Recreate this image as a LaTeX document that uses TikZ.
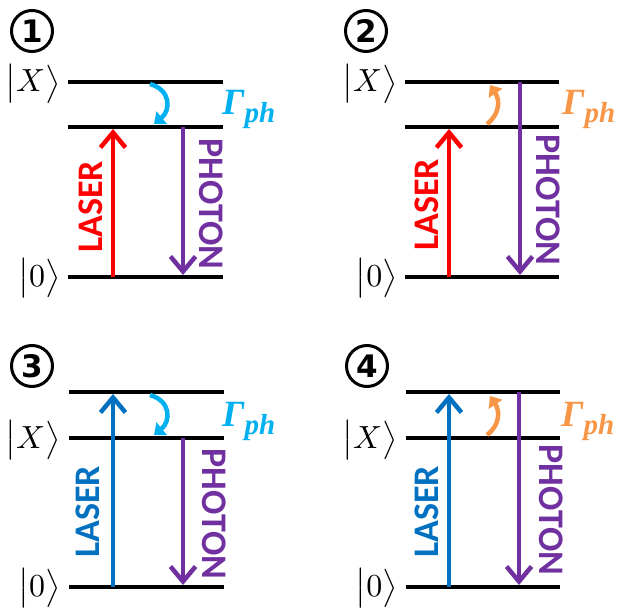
\documentclass[tikz,border=0pt]{standalone}
\usepackage{amsmath}
\usepackage{fontspec}
\usetikzlibrary{arrows.meta}
\newfontfamily\labelfont{Carlito}
\newfontfamily\numfont{DejaVu Sans}
\newfontfamily\ratefont{Liberation Serif}
\definecolor{laserred}{RGB}{255,0,0}
\definecolor{laserblue}{RGB}{0,112,192}
\definecolor{photonpurple}{RGB}{112,48,160}
\definecolor{ratecyan}{RGB}{0,176,240}
\definecolor{rateorange}{RGB}{247,150,70}
\tikzset{
  level/.style={line width=3.5pt, black},
  pumparrow/.style={line width=4.5pt, -{Straight Barb[length=15pt,width=25pt]}},
  emitarrow/.style={line width=4.5pt, photonpurple, -{Straight Barb[length=15pt,width=25pt]}},
  ratearrow/.style={line width=4.5pt, -{Triangle[length=10pt,width=16pt]}},
  ket/.style={anchor=east, inner sep=0pt, scale=3.2},
  tag/.style={circle, draw, line width=3pt, minimum size=41pt, inner sep=0pt,
    font=\numfont\bfseries\fontsize{31}{31}\selectfont},
  vlabel/.style={inner sep=0pt, font=\labelfont\bfseries\fontsize{36}{36}\selectfont},
  rate/.style={anchor=base west, inner sep=0pt, font=\ratefont\bfseries\itshape\fontsize{37}{37}\selectfont}
}
\newcommand{\ratelabel}{Γ\raisebox{-8pt}{\fontsize{29}{29}\selectfont ph}}
\begin{document}
\begin{tikzpicture}[x=1pt, y=-1pt]
\useasboundingbox (0,0) rectangle (617,612);
\clip (0,0) rectangle (617,612);

% ---------- panel 1: resonant pumping, relaxation into |X> ----------
\begin{scope}[name prefix=p1-]
  \node[tag] (n) at (32,31) {1};
  \coordinate (tl) at (68,82);  \coordinate (tr) at (223,82);
  \coordinate (ml) at (68,127); \coordinate (mr) at (223,127);
  \coordinate (bl) at (68,277); \coordinate (br) at (223,277);
  \draw[level] (tl) -- (tr);
  \draw[level] (ml) -- (mr);
  \draw[level] (bl) -- (br);
  \node[ket] (kx) at (61,84) {$\big|X\big\rangle$};
  \node[ket] (k0) at (61,278) {$\big|0\big\rangle$};
  \coordinate (ls) at (113,277); \coordinate (le) at (113,129);
  \coordinate (ps) at (183,127); \coordinate (pe) at (183,275);
  \draw[pumparrow, laserred] (ls) -- (le);
  \draw[emitarrow] (ps) -- (pe);
  \coordinate (rs) at (150,84); \coordinate (re) at (154,124);
  \draw[ratearrow, ratecyan] (rs) .. controls (171,90) and (171,110) .. (re);
  \node[rate, ratecyan] (g) at (222,115) {\ratelabel};
  \node[vlabel, laserred, rotate=90] (lt) at (91,207) {LASER};
  \node[vlabel, photonpurple, rotate=-90] (pt) at (211,204) {PHOTON};
\end{scope}

% ---------- panel 2: resonant pumping, excitation out of |X> ----------
\begin{scope}[shift={(337,0)}, name prefix=p2-]
  \node[tag] (n) at (29,31) {2};
  \coordinate (tl) at (68,82);  \coordinate (tr) at (222,82);
  \coordinate (ml) at (68,127); \coordinate (mr) at (222,127);
  \coordinate (bl) at (68,277); \coordinate (br) at (222,277);
  \draw[level] (tl) -- (tr);
  \draw[level] (ml) -- (mr);
  \draw[level] (bl) -- (br);
  \node[ket] (kx) at (61,84) {$\big|X\big\rangle$};
  \node[ket] (k0) at (61,278) {$\big|0\big\rangle$};
  \coordinate (ls) at (112,277); \coordinate (le) at (112,129);
  \coordinate (ps) at (183,82); \coordinate (pe) at (183,275);
  \draw[pumparrow, laserred] (ls) -- (le);
  \draw[emitarrow] (ps) -- (pe);
  \coordinate (rs) at (150,124); \coordinate (re) at (153,85);
  \draw[ratearrow, rateorange] (rs) .. controls (163,114) and (163,100) .. (re);
  \node[rate, rateorange] (g) at (225,115) {\ratelabel};
  \node[vlabel, laserred, rotate=90] (lt) at (90,205) {LASER};
  \node[vlabel, photonpurple, rotate=-90] (pt) at (211,200) {PHOTON};
\end{scope}

% ---------- panel 3: above-band pumping, relaxation into |X> ----------
\begin{scope}[shift={(0,310)}, name prefix=p3-]
  \node[tag] (n) at (32,56) {3};
  \coordinate (tl) at (69,82);  \coordinate (tr) at (224,82);
  \coordinate (ml) at (69,128); \coordinate (mr) at (224,128);
  \coordinate (bl) at (69,277); \coordinate (br) at (224,277);
  \draw[level] (tl) -- (tr);
  \draw[level] (ml) -- (mr);
  \draw[level] (bl) -- (br);
  \node[ket] (kx) at (61,130) {$\big|X\big\rangle$};
  \node[ket] (k0) at (61,278) {$\big|0\big\rangle$};
  \coordinate (ls) at (113,277); \coordinate (le) at (113,84);
  \coordinate (ps) at (183,128); \coordinate (pe) at (183,275);
  \draw[pumparrow, laserblue] (ls) -- (le);
  \draw[emitarrow] (ps) -- (pe);
  \coordinate (rs) at (150,85); \coordinate (re) at (154,125);
  \draw[ratearrow, ratecyan] (rs) .. controls (171,91) and (171,111) .. (re);
  \node[rate, ratecyan] (g) at (222,116) {\ratelabel};
  \node[vlabel, laserblue, rotate=90] (lt) at (88,202) {LASER};
  \node[vlabel, photonpurple, rotate=-90] (pt) at (214,204) {PHOTON};
\end{scope}

% ---------- panel 4: above-band pumping, excitation out of |X> ----------
\begin{scope}[shift={(337,310)}, name prefix=p4-]
  \node[tag] (n) at (30,56) {4};
  \coordinate (tl) at (69,82);  \coordinate (tr) at (223,82);
  \coordinate (ml) at (69,128); \coordinate (mr) at (223,128);
  \coordinate (bl) at (69,277); \coordinate (br) at (223,277);
  \draw[level] (tl) -- (tr);
  \draw[level] (ml) -- (mr);
  \draw[level] (bl) -- (br);
  \node[ket] (kx) at (61,130) {$\big|X\big\rangle$};
  \node[ket] (k0) at (61,278) {$\big|0\big\rangle$};
  \coordinate (ls) at (112,277); \coordinate (le) at (112,84);
  \coordinate (ps) at (182,82); \coordinate (pe) at (182,275);
  \draw[pumparrow, laserblue] (ls) -- (le);
  \draw[emitarrow] (ps) -- (pe);
  \coordinate (rs) at (150,125); \coordinate (re) at (153,86);
  \draw[ratearrow, rateorange] (rs) .. controls (163,115) and (163,101) .. (re);
  \node[rate, rateorange] (g) at (224,116) {\ratelabel};
  \node[vlabel, laserblue, rotate=90] (lt) at (90,202) {LASER};
  \node[vlabel, photonpurple, rotate=-90] (pt) at (214,200) {PHOTON};
\end{scope}
\end{tikzpicture}
\end{document}
